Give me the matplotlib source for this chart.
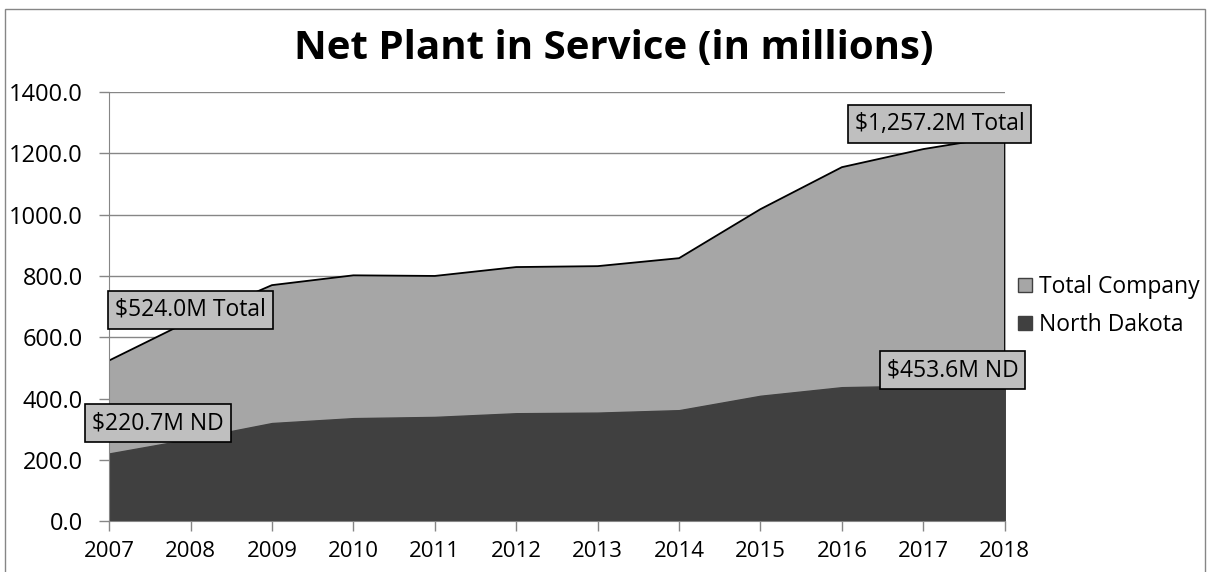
import numpy as np
import matplotlib.pyplot as plt
from matplotlib.patches import Patch

plt.rcParams['font.family'] = ['Open Sans', 'DejaVu Sans']

years = [2007, 2008, 2009, 2010, 2011, 2012, 2013, 2014, 2015, 2016, 2017, 2018]
total_company = [524.0, 655.0, 770.0, 802.0, 800.0, 829.0, 832.0, 858.0, 1018.0, 1155.0, 1214.0, 1257.2]
north_dakota = [220.7, 268.0, 320.0, 336.0, 340.0, 352.0, 354.0, 362.0, 409.0, 437.0, 442.0, 453.6]

fig = plt.figure(figsize=(12.12, 5.72), dpi=100)
ax = fig.add_axes([0.09, 0.089, 0.739, 0.75])

ax.fill_between(years, total_company, color='#a6a6a6', zorder=2)
ax.plot(years, total_company, color='black', lw=1.3, zorder=3)
ax.plot([years[-1], years[-1]], [0, total_company[-1]], color='black', lw=1.3, zorder=3)
ax.fill_between(years, north_dakota, color='#404040', zorder=4)

ax.set_xlim(years[0], years[-1])
ax.set_ylim(0, 1400)
ax.set_yticks(np.arange(0, 1401, 200))
ax.set_yticklabels([f'{v:.1f}' for v in np.arange(0, 1401, 200)])
ax.set_xticks(years)
ax.grid(axis='y', color='#868686', lw=1, zorder=1)
ax.set_axisbelow(True)
for s in ['top', 'right']:
    ax.spines[s].set_visible(False)
for s in ['left', 'bottom']:
    ax.spines[s].set_color('#868686')
    ax.spines[s].set_zorder(5)
ax.tick_params(colors='#868686', labelcolor='black', labelsize=16, length=7, width=1)
ax.tick_params(axis='y', pad=12, labelsize=17)
ax.tick_params(axis='x', pad=7)

box = dict(boxstyle='square,pad=0.3', fc='#bfbfbf', ec='black', lw=1.2)
kw = dict(fontsize=16.5, ha='center', va='center', bbox=box, zorder=6)
ax.text(2008.0, 689, f'${total_company[0]:,.1f}M Total', **kw)
ax.text(2007.6, 320, f'${north_dakota[0]:,.1f}M ND', **kw)
ax.text(2017.2, 1296, f'${total_company[-1]:,.1f}M Total', **kw)
ax.text(2017.36, 493, f'${north_dakota[-1]:,.1f}M ND', **kw)

fig.text(0.506, 0.915, 'Net Plant in Service (in millions)', fontsize=29,
         fontweight='bold', ha='center', va='center')

handles = [Patch(fc='#a6a6a6', ec='#404040', lw=1), Patch(fc='#404040', ec='#404040')]
fig.legend(handles, ['Total Company', 'North Dakota'], loc='center left',
           bbox_to_anchor=(0.823, 0.465), frameon=False, fontsize=16.5,
           handlelength=0.6, handleheight=0.6, handletextpad=0.3, labelspacing=0.6)

fig.patches.append(plt.Rectangle((0.004, -0.1), 0.99, 1.085, transform=fig.transFigure,
                                 fill=False, ec='#868686', lw=1))

fig.savefig('out.png', dpi=100)
